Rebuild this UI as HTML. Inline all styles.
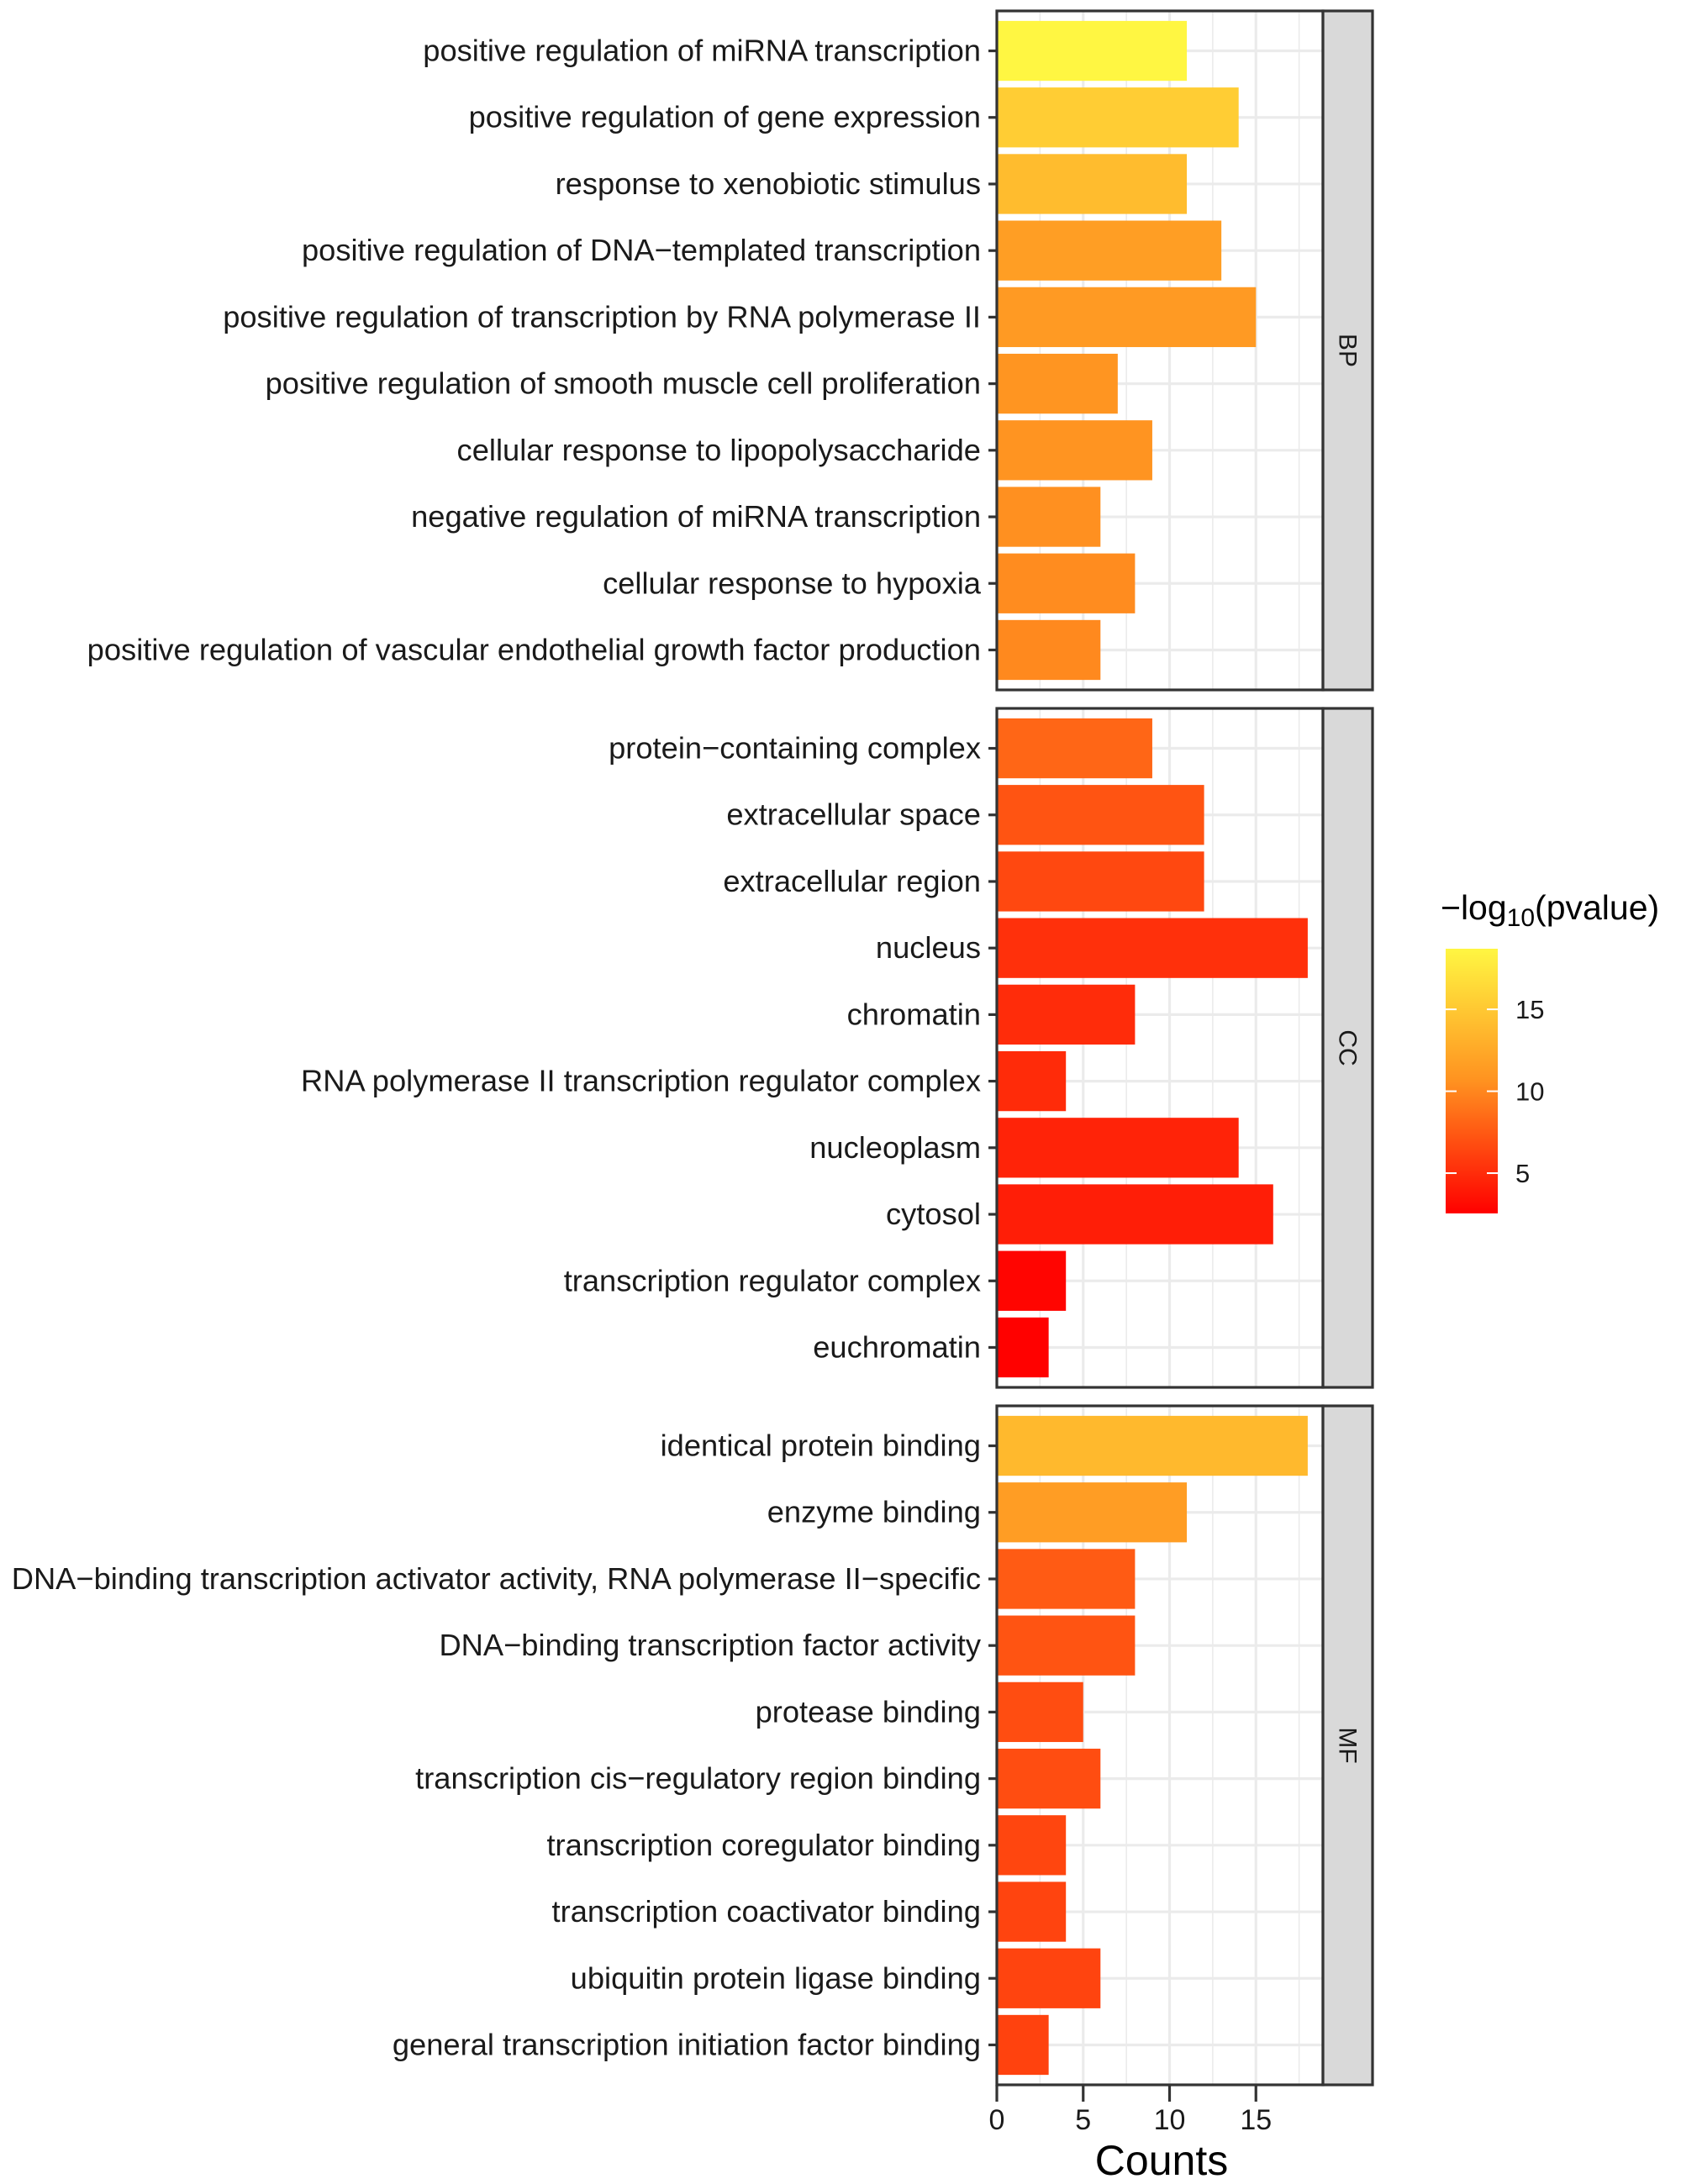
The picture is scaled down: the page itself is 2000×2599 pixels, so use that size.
<!DOCTYPE html>
<html><head><meta charset="utf-8"><style>
html,body{margin:0;padding:0;background:#fff}
svg{display:block;font-family:"Liberation Sans",Arial,sans-serif}
</style></head><body>
<svg id="chart" width="2000" height="2599" viewBox="0 0 2000 2599"></svg>
<script>
const panelNames = ["BP","CC","MF"];
const bpTerms = ["positive regulation of miRNA transcription","positive regulation of gene expression","response to xenobiotic stimulus","positive regulation of DNA\u2212templated transcription","positive regulation of transcription by RNA polymerase II","positive regulation of smooth muscle cell proliferation","cellular response to lipopolysaccharide","negative regulation of miRNA transcription","cellular response to hypoxia","positive regulation of vascular endothelial growth factor production"];
const bpCounts = [11,14,11,13,15,7,9,6,8,6];
const bpLogP = [18.7,15.4,14.0,11.6,11.3,10.9,10.8,10.5,10.3,10.1];
const ccTerms = ["protein\u2212containing complex","extracellular space","extracellular region","nucleus","chromatin","RNA polymerase II transcription regulator complex","nucleoplasm","cytosol","transcription regulator complex","euchromatin"];
const ccCounts = [9,12,12,18,8,4,14,16,4,3];
const ccLogP = [8.2,7.2,6.5,5.2,5.0,4.9,4.5,4.2,2.8,2.6];
const mfTerms = ["identical protein binding","enzyme binding","DNA\u2212binding transcription activator activity, RNA polymerase II\u2212specific","DNA\u2212binding transcription factor activity","protease binding","transcription cis\u2212regulatory region binding","transcription coregulator binding","transcription coactivator binding","ubiquitin protein ligase binding","general transcription initiation factor binding"];
const mfCounts = [18,11,8,8,5,6,4,4,6,3];
const mfLogP = [13.8,11.5,7.6,7.2,6.8,6.8,6.4,6.3,6.3,6.2];
const xTicks = [0,5,10,15];
const legendTicks = [5,10,15];

const NS="http://www.w3.org/2000/svg";
const svg=document.getElementById('chart');
function mk(tag,attrs,parent){const e=document.createElementNS(NS,tag);for(const k in attrs)e.setAttribute(k,attrs[k]);(parent||svg).appendChild(e);return e;}

const X0=1186, XR=1574;
const xs=v=>X0+v*20.55;
const panelTops=[13,843,1673], PH=808;
const band=PH/10.2;
const LMIN=2.54, LMAX=18.7;
function color(v){
  let t=(v-LMIN)/(LMAX-LMIN); t=Math.max(0,Math.min(1,t));
  const stops=[[0,[255,0,0]],[0.5,[255,146,32]],[1,[255,246,66]]];
  let a=stops[0],b=stops[1]; if(t>0.5){a=stops[1];b=stops[2];}
  const u=(t-a[0])/(b[0]-a[0]);
  const c=a[1].map((x,i)=>Math.round(x+(b[1][i]-x)*u));
  return `rgb(${c[0]},${c[1]},${c[2]})`;
}
const data=[[bpTerms,bpCounts,bpLogP],[ccTerms,ccCounts,ccLogP],[mfTerms,mfCounts,mfLogP]];
data.forEach((d,p)=>{
  const top=panelTops[p];
  const g=mk('g',{});
  
  
  [2.5,7.5,12.5,17.5].forEach(v=>{const l=mk('line',{x1:xs(v),x2:xs(v),y1:top,y2:top+PH,stroke:'#ebebeb','stroke-width':1.6},g);
    });
  xTicks.forEach(v=>{const l=mk('line',{x1:xs(v),x2:xs(v),y1:top,y2:top+PH,stroke:'#ebebeb','stroke-width':3.2},g);
    });
  d[0].forEach((term,i)=>{
    const cy=top+band*(0.6+i);
    const hl=mk('line',{x1:X0,x2:XR,y1:cy,y2:cy,stroke:'#ebebeb','stroke-width':3.2},g);
    
    const r=mk('rect',{x:X0,y:cy-band*0.45,width:xs(d[1][i])-X0,height:band*0.9,fill:color(d[2][i])},g);
    
    const tk=mk('line',{x1:1176,x2:1186,y1:cy,y2:cy,stroke:'#333','stroke-width':3.2},g);
    
    const t=mk('text',{x:1167,y:cy+12,'text-anchor':'end','font-size':36.3,fill:'#1a1a1a'},g);
    t.textContent=term;
    
  });
  const br=mk('rect',{x:X0,y:top,width:XR-X0,height:PH,fill:'none',stroke:'#333','stroke-width':3.2},g);
  
  const st=mk('rect',{x:XR,y:top,width:1633-XR,height:PH,fill:'#d9d9d9',stroke:'#333','stroke-width':3.2},g);
  
  const stt=mk('text',{x:0,y:0,'text-anchor':'middle','font-size':30,fill:'#1a1a1a',transform:`translate(${(XR+1633)/2-10},${top+PH/2}) rotate(90)`},g);
  stt.textContent=panelNames[p];
  
});
xTicks.forEach(v=>{
  const l=mk('line',{x1:xs(v),x2:xs(v),y1:2481,y2:2501,stroke:'#333','stroke-width':3.2});
  
  const t=mk('text',{x:xs(v),y:2534,'text-anchor':'middle','font-size':34,fill:'#1a1a1a'});
  t.textContent=v;
  
});
const xt=mk('text',{x:1382,y:2588,'text-anchor':'middle','font-size':50,fill:'#000'});
xt.textContent='Counts';

const defs=mk('defs',{});
const grad=mk('linearGradient',{id:'lg',x1:0,y1:1,x2:0,y2:0},defs);
for(let k=0;k<=20;k++){const v=LMIN+(LMAX-LMIN)*k/20;mk('stop',{offset:(k/20),'stop-color':color(v)},grad);}
const lgt=mk('text',{x:1714,y:1094,'font-size':41,fill:'#000'});
lgt.innerHTML='\u2212log<tspan font-size="30" dy="8">10</tspan><tspan dy="-8">(pvalue)</tspan>';

const LT=1129,LB=1444;
const ly=v=>LB-(v-LMIN)/(LMAX-LMIN)*(LB-LT);
const cb=mk('rect',{x:1720,y:LT,width:62,height:LB-LT,fill:'url(#lg)'});

legendTicks.forEach(v=>{
  [[1720,1733],[1769,1782]].forEach(([a,b])=>{const l=mk('line',{x1:a,x2:b,y1:ly(v),y2:ly(v),stroke:'#fff','stroke-width':2});
    });
  const t=mk('text',{x:1803,y:ly(v)+11,'font-size':31,fill:'#1a1a1a'});
  t.textContent=v;
  
});
</script>
</body></html>
